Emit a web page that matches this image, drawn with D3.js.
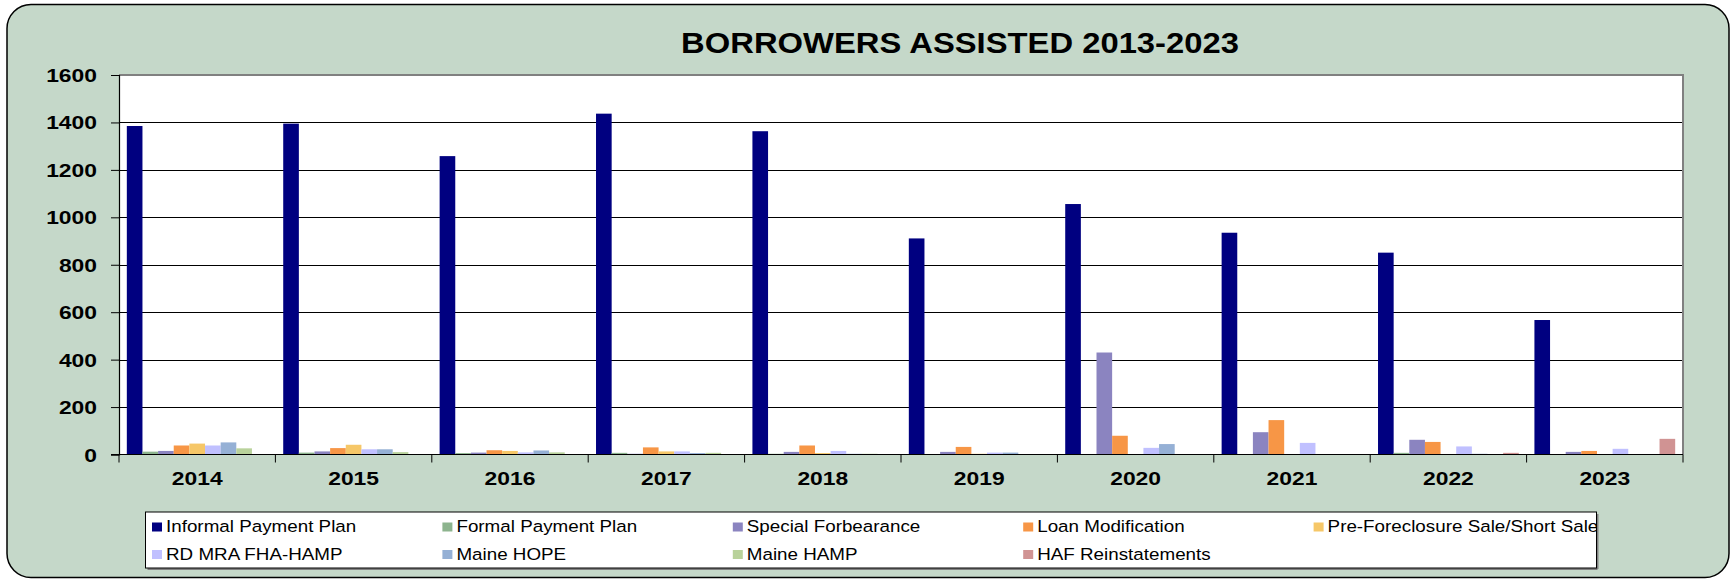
<!DOCTYPE html>
<html>
<head>
<meta charset="utf-8">
<script src="https://cdn.jsdelivr.net/npm/d3@7"></script>
<style>
  html, body { margin: 0; padding: 0; background: #ffffff; }
  svg { display: block; }
  text { font-family: "Liberation Sans", Arial, sans-serif; fill: #000; }
</style>
</head>
<body>
<svg id="chart" width="1730" height="579"></svg>
<script>
// ---- data ----
const years = ["2014", "2015", "2016", "2017", "2018", "2019", "2020", "2021", "2022", "2023"];
const seriesNames = [
  "Informal Payment Plan", "Formal Payment Plan", "Special Forbearance",
  "Loan Modification", "Pre-Foreclosure Sale/Short Sale", "RD MRA FHA-HAMP",
  "Maine HOPE", "Maine HAMP", "HAF Reinstatements"
];
const informalPaymentPlan = [1385, 1395, 1258, 1437, 1363, 911, 1056, 935, 851, 567];
const formalPaymentPlan   = [12, 8, 6, 7, 3, 2, 2, 2, 7, 0];
const specialForbearance  = [15, 13, 8, 3, 11, 11, 430, 94, 62, 11];
const loanModification    = [38, 27, 18, 30, 38, 32, 79, 145, 53, 15];
const preForeclosureSale  = [46, 41, 15, 13, 6, 3, 2, 0, 0, 0];
const rdMraFhaHamp        = [38, 22, 9, 13, 15, 8, 28, 49, 34, 24];
const maineHope           = [51, 22, 17, 6, 3, 8, 44, 0, 3, 0];
const maineHamp           = [26, 10, 9, 7, 3, 0, 0, 0, 0, 0];
const hafReinstatements   = [0, 0, 0, 0, 0, 0, 0, 0, 7, 66];
const yTicks = [0, 200, 400, 600, 800, 1000, 1200, 1400, 1600];
const seriesColors = ["#000080", "#8DB48E", "#8B84C0", "#F79646", "#F6C768",
                      "#C0C0FF", "#95B0D5", "#B9D29B", "#D09393"];

const seriesValues = [informalPaymentPlan, formalPaymentPlan, specialForbearance,
  loanModification, preForeclosureSale, rdMraFhaHamp, maineHope, maineHamp, hafReinstatements];

// ---- layout ----
const svg = d3.select("#chart");
const plot = { left: 119, right: 1683, top: 75, bottom: 454.5 };
const stretch = 1.27;       // wide-set lettering for axis labels
const legendStretch = 1.14; // legend lettering

// background panel
svg.append("rect")
  .attr("x", 7).attr("y", 4.5).attr("width", 1722).attr("height", 573)
  .attr("rx", 24).attr("ry", 24)
  .attr("fill", "#C5D8C9").attr("stroke", "#000").attr("stroke-width", 1.5);

// title
svg.append("text")
  .attr("transform", `translate(960,53) scale(1.13,1)`)
  .attr("text-anchor", "middle")
  .attr("font-size", 29).attr("font-weight", "bold")
  .text("BORROWERS ASSISTED 2013-2023");

const x0 = d3.scaleBand().domain(years).range([plot.left, plot.right]).padding(0);
const bw = x0.bandwidth();
const x1 = d3.scaleBand().domain(seriesNames).range([bw * 0.05, bw * 0.95]).padding(0);
const y = d3.scaleLinear().domain([0, 1600]).range([plot.bottom, plot.top]);

// plot area
svg.append("rect")
  .attr("x", plot.left).attr("y", plot.top)
  .attr("width", plot.right - plot.left).attr("height", plot.bottom - plot.top)
  .attr("fill", "#ffffff");

// gridlines
svg.append("g").selectAll("line")
  .data(yTicks.filter(d => d > 0 && d < 1600))
  .join("line")
  .attr("x1", plot.left).attr("x2", plot.right)
  .attr("y1", d => Math.round(y(d)) + 0.5).attr("y2", d => Math.round(y(d)) + 0.5)
  .attr("stroke", "#000").attr("stroke-width", 1);

// bars
const groups = svg.append("g").selectAll("g")
  .data(years)
  .join("g")
  .attr("transform", d => `translate(${x0(d)},0)`);

groups.selectAll("rect")
  .data((yr, i) => seriesNames.map((s, k) => ({ s, k, v: seriesValues[k][i] })))
  .join("rect")
  .attr("x", d => x1(d.s))
  .attr("width", x1.bandwidth())
  .attr("y", d => y(d.v))
  .attr("height", d => y(0) - y(d.v))
  .attr("fill", d => seriesColors[d.k]);

// plot frame: grey top/right, black axes
svg.append("line")
  .attr("x1", plot.left).attr("x2", plot.right + 1)
  .attr("y1", plot.top).attr("y2", plot.top)
  .attr("stroke", "#808080").attr("stroke-width", 2);
svg.append("line")
  .attr("x1", plot.right).attr("x2", plot.right)
  .attr("y1", plot.top).attr("y2", plot.bottom)
  .attr("stroke", "#808080").attr("stroke-width", 2);

// y axis
const yAxis = svg.append("g").attr("transform", `translate(${plot.left},0)`)
  .call(d3.axisLeft(y).tickValues(yTicks).tickSize(8).tickFormat(d3.format("d")));
yAxis.select(".domain").attr("stroke", "#000").attr("stroke-width", 1.2);
yAxis.selectAll(".tick line").attr("stroke", "#000");
yAxis.selectAll(".tick text").remove();
yAxis.selectAll(".tick").append("text")
  .attr("transform", `translate(-22,6.5) scale(${stretch},1)`)
  .attr("text-anchor", "end")
  .attr("font-size", 18).attr("font-weight", "bold")
  .text(d => d3.format("d")(d));

// x axis with ticks on category boundaries
const xAxis = svg.append("g").attr("transform", `translate(0,${plot.bottom})`);
xAxis.append("line")
  .attr("x1", plot.left - 8).attr("x2", plot.right)
  .attr("stroke", "#000").attr("stroke-width", 1.2);
const boundaries = years.map(d => x0(d)).concat([x0(years[years.length - 1]) + bw]);
xAxis.selectAll("line.tk").data(boundaries).join("line")
  .attr("class", "tk")
  .attr("x1", d => d).attr("x2", d => d)
  .attr("y1", 0).attr("y2", 8)
  .attr("stroke", "#000");
xAxis.selectAll("text").data(years).join("text")
  .attr("transform", d => `translate(${x0(d) + bw / 2},30) scale(${stretch},1)`)
  .attr("text-anchor", "middle")
  .attr("font-size", 18).attr("font-weight", "bold")
  .text(d => d);

// legend
const lg = { x: 145.5, y: 512, w: 1451, h: 56 };
svg.append("line")
  .attr("x1", lg.x + 2).attr("x2", lg.x + lg.w + 1)
  .attr("y1", lg.y + lg.h + 1).attr("y2", lg.y + lg.h + 1)
  .attr("stroke", "#808080").attr("stroke-width", 2);
svg.append("line")
  .attr("x1", lg.x + lg.w + 1).attr("x2", lg.x + lg.w + 1)
  .attr("y1", lg.y + 2).attr("y2", lg.y + lg.h + 1)
  .attr("stroke", "#808080").attr("stroke-width", 2);
svg.append("rect")
  .attr("x", lg.x).attr("y", lg.y).attr("width", lg.w).attr("height", lg.h)
  .attr("fill", "#ffffff");

svg.append("clipPath").attr("id", "legend-clip")
  .append("rect")
  .attr("x", lg.x).attr("y", lg.y).attr("width", lg.w).attr("height", lg.h);

const colStep = 290.4;
const items = svg.append("g").attr("clip-path", "url(#legend-clip)")
  .selectAll("g")
  .data(seriesNames)
  .join("g")
  .attr("transform", (d, i) => {
    const col = i % 5, row = Math.floor(i / 5);
    return `translate(${152 + col * colStep},${row === 0 ? 522.5 : 550})`;
  });
items.append("rect")
  .attr("width", 10).attr("height", 9)
  .attr("fill", (d, i) => seriesColors[i]);
items.append("text")
  .attr("transform", `translate(14,9.6) scale(${legendStretch},1)`)
  .attr("font-size", 16.5)
  .text(d => d);

svg.append("rect")
  .attr("x", lg.x).attr("y", lg.y).attr("width", lg.w).attr("height", lg.h)
  .attr("fill", "none").attr("stroke", "#000").attr("stroke-width", 1);
</script>
</body>
</html>
